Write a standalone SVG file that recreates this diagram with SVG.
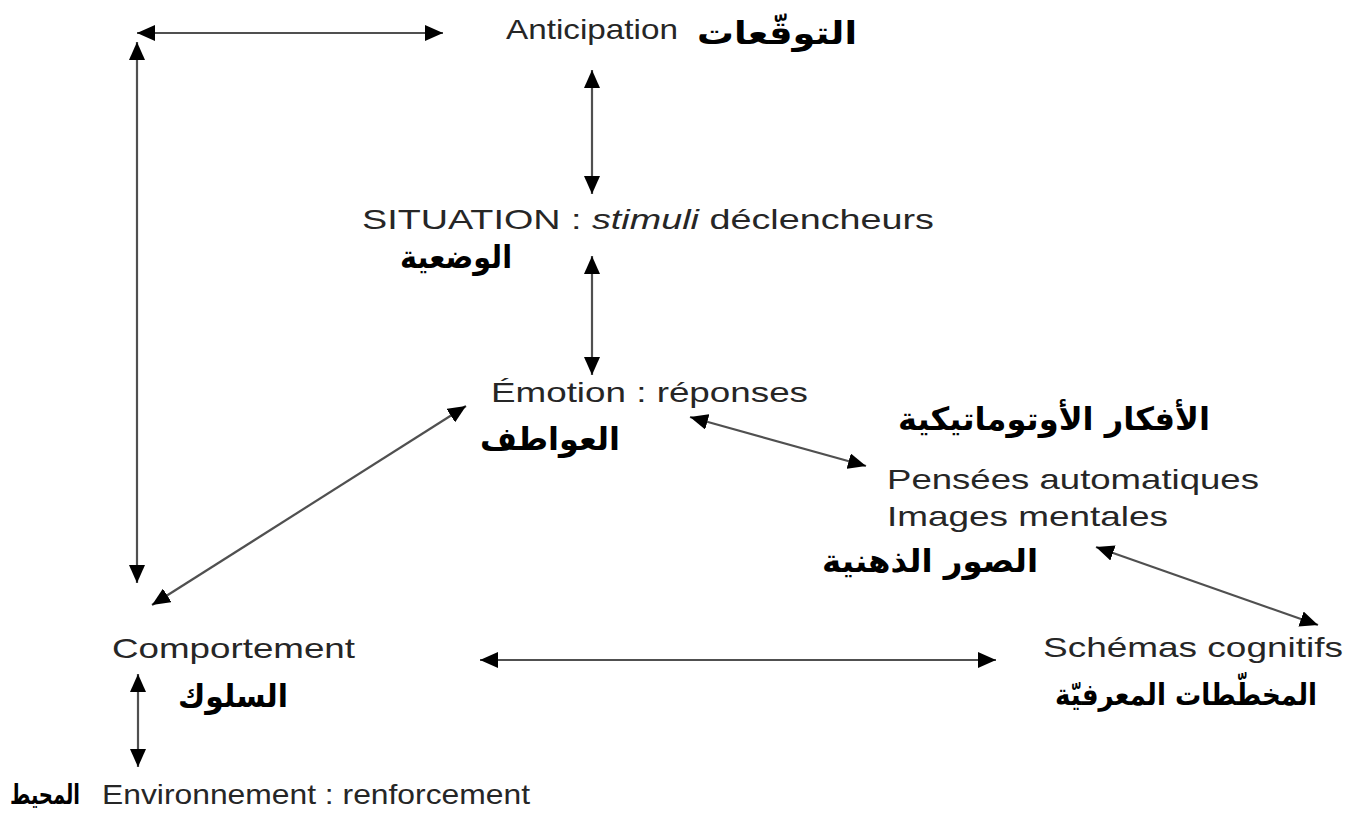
<svg xmlns="http://www.w3.org/2000/svg" width="1354" height="815" viewBox="0 0 1354 815">
<defs>
<marker id="ah" viewBox="0 0 18 16" refX="18" refY="8" markerWidth="18" markerHeight="16" markerUnits="userSpaceOnUse" orient="auto-start-reverse">
<path d="M0,0 L18,8 L0,16 z" fill="#000"/>
</marker>
<style>
.fr{font-family:"Liberation Sans",Arial,sans-serif;font-size:28px;fill:#262626}
.ar{font-family:"DejaVu Sans","Noto Sans",sans-serif;font-size:32px;font-weight:bold;fill:#000;text-anchor:end}
.c{stroke:#505050;stroke-width:2.2;fill:none;marker-start:url(#ah);marker-end:url(#ah)}
</style>
</defs>
<rect width="1354" height="815" fill="#fff"/>
<g id="connectors">
<line class="c" x1="137" y1="33" x2="443" y2="33"/>
<line class="c" x1="137" y1="42" x2="137" y2="583"/>
<line class="c" x1="592" y1="70" x2="592" y2="194"/>
<line class="c" x1="592" y1="256" x2="592" y2="375"/>
<line class="c" x1="466" y1="406" x2="152" y2="605"/>
<line class="c" x1="690" y1="417" x2="866" y2="466"/>
<line class="c" x1="1096" y1="547" x2="1318" y2="625"/>
<line class="c" x1="480" y1="660" x2="996" y2="660"/>
<line class="c" x1="138" y1="674" x2="138" y2="767"/>
</g>
<g id="anticipation">
<text class="fr" x="506" y="39" textLength="172" lengthAdjust="spacingAndGlyphs">Anticipation</text>
<text class="ar" x="857" y="44" textLength="160" lengthAdjust="spacingAndGlyphs">التوقّعات</text>
</g>
<g id="situation">
<text class="fr" x="362" y="229" textLength="572" lengthAdjust="spacingAndGlyphs">SITUATION : <tspan font-style="italic">stimuli</tspan> déclencheurs</text>
<text class="ar" x="512" y="268" textLength="112" lengthAdjust="spacingAndGlyphs">الوضعية</text>
</g>
<g id="emotion">
<text class="fr" x="491" y="402" textLength="317" lengthAdjust="spacingAndGlyphs">Émotion : réponses</text>
<text class="ar" x="620" y="450" textLength="140" lengthAdjust="spacingAndGlyphs">العواطف</text>
</g>
<g id="pensees">
<text class="ar" x="1210" y="430" textLength="312" lengthAdjust="spacingAndGlyphs">الأفكار الأوتوماتيكية</text>
<text class="fr" x="887" y="489" textLength="372" lengthAdjust="spacingAndGlyphs">Pensées automatiques</text>
<text class="fr" x="887" y="526" textLength="281" lengthAdjust="spacingAndGlyphs">Images mentales</text>
<text class="ar" x="1038" y="572" textLength="216" lengthAdjust="spacingAndGlyphs">الصور الذهنية</text>
</g>
<g id="comportement">
<text class="fr" x="112" y="658" textLength="243" lengthAdjust="spacingAndGlyphs">Comportement</text>
<text class="ar" x="288" y="707" textLength="110" lengthAdjust="spacingAndGlyphs">السلوك</text>
</g>
<g id="schemas">
<text class="fr" x="1043" y="657" textLength="300" lengthAdjust="spacingAndGlyphs">Schémas cognitifs</text>
<text class="ar" x="1317" y="705" style="font-size:30px" textLength="262" lengthAdjust="spacingAndGlyphs">المخطّطات المعرفيّة</text>
</g>
<g id="environnement">
<text class="ar" x="80" y="804" style="font-size:27px" textLength="70" lengthAdjust="spacingAndGlyphs">المحيط</text>
<text class="fr" x="102" y="804" textLength="428" lengthAdjust="spacingAndGlyphs">Environnement : renforcement</text>
</g>
</svg>
